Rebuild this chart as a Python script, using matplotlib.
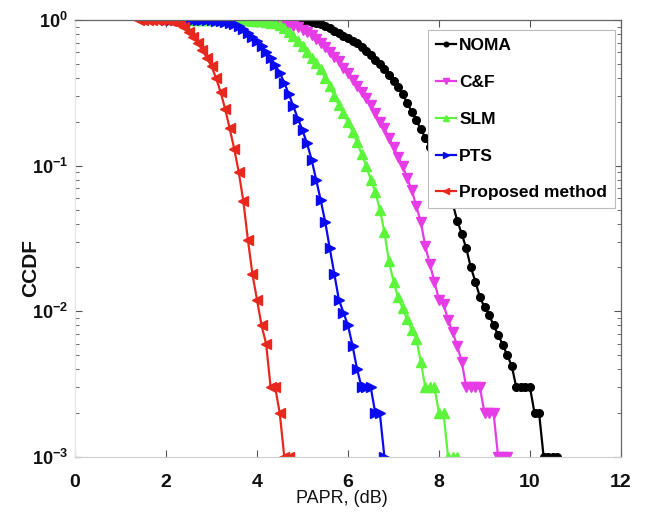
import numpy as np
import matplotlib
matplotlib.use("Agg")
import matplotlib.pyplot as plt
from matplotlib.ticker import LogLocator, NullFormatter, FixedLocator

plt.rcParams['font.family'] = ['Liberation Sans', 'DejaVu Sans']
plt.rcParams['mathtext.fontset'] = 'custom'
plt.rcParams['mathtext.rm'] = 'Liberation Sans'
plt.rcParams['mathtext.bf'] = 'Liberation Sans:bold'
plt.rcParams['mathtext.default'] = 'bf'

# ---------------- data ----------------
labels = ["NOMA", "C&F", "SLM", "PTS", "Proposed method"]

step = 0.1
noma_x0 = 2.0
noma_y = [1.0] * 23 + [0.999, 0.999, 0.998,
          0.997, 0.996, 0.994, 0.99, 0.985, 0.978, 0.97, 0.955, 0.935, 0.905,
          0.875, 0.845, 0.81, 0.78, 0.75, 0.72, 0.69, 0.655, 0.615, 0.575,
          0.535, 0.495, 0.46, 0.42, 0.38, 0.345, 0.31, 0.27, 0.235, 0.205,
          0.178, 0.155, 0.135, 0.118, 0.10, 0.085, 0.07, 0.055, 0.042, 0.034,
          0.027, 0.02, 0.016, 0.0125, 0.0107, 0.0095, 0.008, 0.0069, 0.0059, 0.005,
          0.0042, 0.003, 0.003, 0.003, 0.003, 0.002, 0.002, 0.001, 0.001, 0.001, 0.001]

cf_x0 = 2.4
cf_y = [1.0] * 12 + [0.999, 0.998, 0.997, 0.996,
        0.995, 0.99, 0.985, 0.978, 0.97, 0.958, 0.945, 0.93,
        0.91, 0.89, 0.86, 0.83, 0.79, 0.74, 0.70, 0.65, 0.60, 0.56,
        0.52, 0.47, 0.43, 0.39, 0.35, 0.32, 0.29, 0.26, 0.23, 0.20,
        0.18, 0.155, 0.135, 0.115, 0.10, 0.082, 0.068, 0.053, 0.041, 0.028,
        0.021, 0.016, 0.012, 0.0112, 0.0087, 0.0072, 0.0058, 0.0045,
        0.003, 0.003, 0.003, 0.003, 0.002, 0.002, 0.002, 0.001, 0.001, 0.001]

slm_x0 = 2.4
slm_y = [1.0] * 11 + [0.999, 0.998, 0.996, 0.993, 0.99, 0.985, 0.977, 0.967, 0.955,
         0.95, 0.92, 0.88, 0.83, 0.78, 0.72, 0.66, 0.60, 0.55, 0.51,
         0.46, 0.40, 0.35, 0.30, 0.26, 0.23, 0.20, 0.17, 0.145, 0.12,
         0.10, 0.08, 0.066, 0.05, 0.035, 0.022, 0.016, 0.0125, 0.0105, 0.0088,
         0.0075, 0.0065, 0.0045, 0.003, 0.003, 0.003, 0.002, 0.002,
         0.001, 0.001, 0.001]

pts_x0 = 2.0
pts_y = [1.0] * 8 + [0.998, 0.997,
         0.995, 0.99, 0.985, 0.975, 0.96, 0.94, 0.91, 0.87, 0.82, 0.77,
         0.72, 0.66, 0.60, 0.55, 0.49, 0.435, 0.37, 0.31, 0.255, 0.21,
         0.175, 0.142, 0.11, 0.08, 0.058, 0.041, 0.027, 0.018, 0.012, 0.0098,
         0.008, 0.0058, 0.004, 0.003, 0.003, 0.003, 0.002, 0.002, 0.001]

prop_x0 = 1.4
prop_y = [1.0, 1.0, 1.0, 1.0, 1.0, 0.999, 0.997, 0.99, 0.975, 0.945,
          0.90, 0.83, 0.76, 0.70, 0.62, 0.55, 0.48, 0.40, 0.32, 0.245,
          0.18, 0.13, 0.09, 0.057, 0.031, 0.018, 0.012, 0.008, 0.006, 0.003,
          0.003, 0.002, 0.001, 0.001]

x_ticks = [0, 2, 4, 6, 8, 10, 12]
y_ticks = [1e-3, 1e-2, 1e-1, 1]
y_tick_labels = [r'$\mathbf{10^{-3}}$', r'$\mathbf{10^{-2}}$',
                 r'$\mathbf{10^{-1}}$', r'$\mathbf{10^{0}}$']

series = [
    (noma_x0, noma_y, '#000000', 'o', 5.5),
    (cf_x0, cf_y, '#e63ce6', 'v', 7.0),
    (slm_x0, slm_y, '#5cf53c', '^', 7.0),
    (pts_x0, pts_y, '#0a0af0', '>', 7.0),
    (prop_x0, prop_y, '#e8281e', '<', 7.0),
]

# ---------------- figure ----------------
fig = plt.figure(figsize=(6.46, 5.14), dpi=100)
ax = fig.add_axes([75 / 646, 1 - 457 / 514, 546 / 646, 437 / 514])

for (x0, ys, col, mk, ms), lab in zip(series, labels):
    xs = x0 + step * np.arange(len(ys))
    ax.semilogy(xs, ys, color=col, marker=mk, markersize=ms, linewidth=1.6,
                markeredgecolor=col, markerfacecolor=col, label=lab)

ax.set_xlim(0, 12)
ax.set_ylim(1e-3, 1)
ax.xaxis.set_major_locator(FixedLocator(x_ticks))
ax.set_xticklabels([str(t) for t in x_ticks])
ax.yaxis.set_minor_locator(LogLocator(base=10, subs=np.arange(2, 10), numticks=10))
ax.yaxis.set_minor_formatter(NullFormatter())
ax.set_yticks(y_ticks)
ax.set_yticklabels(y_tick_labels)

ax.tick_params(axis='both', which='both', direction='in', top=True, right=True,
               colors='#555555', labelcolor='#111111')
ax.tick_params(axis='x', which='major', length=5, width=0.8, labelsize=14, pad=12)
ax.tick_params(axis='y', which='major', length=5, width=0.8, labelsize=13, pad=5)
ax.tick_params(axis='y', which='minor', length=3, width=0.6)
for lab in ax.get_xticklabels():
    lab.set_fontweight('bold')

ax.spines['top'].set_color('#666666')
ax.spines['right'].set_color('#666666')
ax.spines['bottom'].set_color('#d0d0d0')
ax.spines['left'].set_color('#e6e6e6')
for s in ax.spines.values():
    s.set_linewidth(0.9)

ax.set_xlabel('PAPR, (dB)', fontsize=13, color='#111111')
ax.xaxis.label.set_va('center')
ax.xaxis.set_label_coords(0.489, -0.094)
ax.set_ylabel('CCDF', fontsize=15, fontweight='bold', color='#111111')
ax.yaxis.label.set_va('center')
ax.yaxis.set_label_coords(-0.082, 0.432)

leg = ax.legend(loc='upper right', bbox_to_anchor=(0.989, 0.977),
                prop={'weight': 'bold', 'size': 12.5}, frameon=True, fancybox=False,
                edgecolor='#bbbbbb', framealpha=1.0, handlelength=1.15,
                handletextpad=0.2, labelspacing=1.25, borderpad=0.45,
                borderaxespad=0.0, markerscale=0.6)
leg.get_frame().set_linewidth(0.8)

fig.savefig('out.png', dpi=100)
